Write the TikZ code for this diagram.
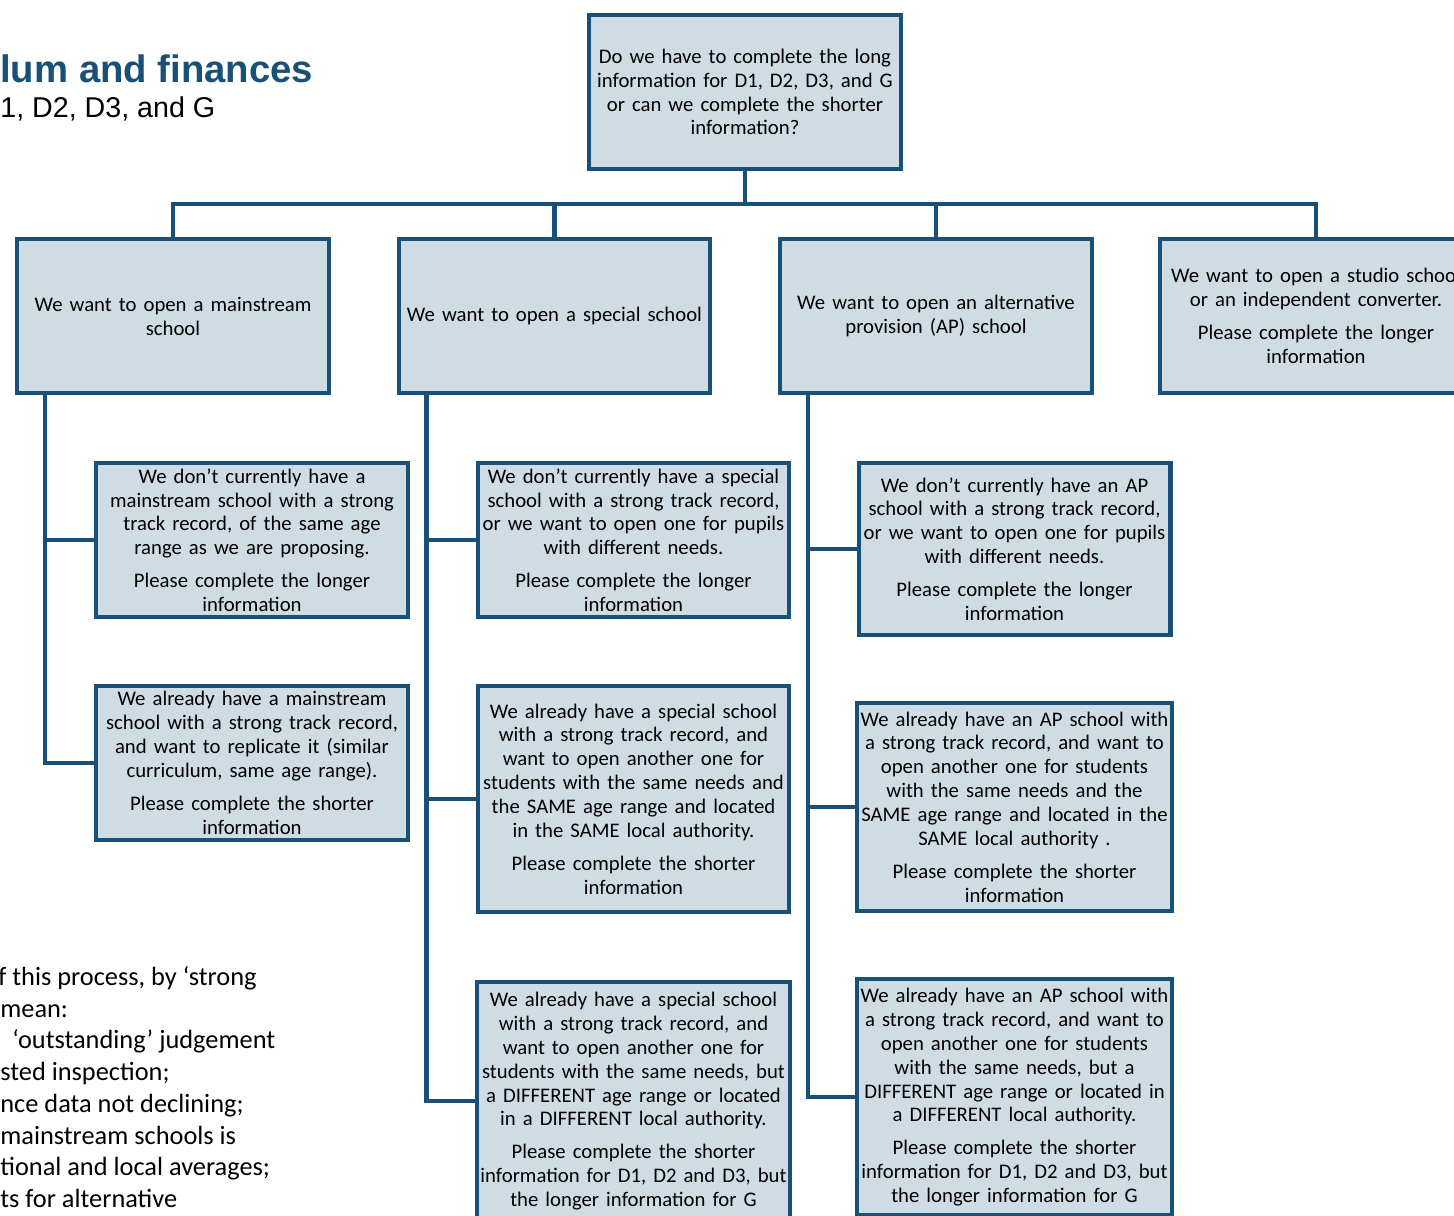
\documentclass[tikz,border=0pt]{standalone}
\usepackage{fontspec}
\setmainfont{Carlito}
\newfontfamily\headfont{Liberation Sans}
\definecolor{darkblue}{RGB}{24,80,120}
\definecolor{paleblue}{RGB}{208,220,228}
\newcommand{\boxfont}{\fontsize{11.8}{13.6}\selectfont\spaceskip=0.34em plus 0.1em}

\begin{document}
\begin{tikzpicture}[x=0.02cm, y=-0.02cm,
        box/.style={draw=darkblue, fill=paleblue, line width=2.3pt, align=center,
            minimum width=6.24cm, minimum height=3.08cm, inner sep=2pt,
            font=\boxfont},
        link/.style={draw=darkblue, line width=2.3pt},
        note/.style={anchor=base west, inner sep=0pt, font=\fontsize{15}{18}\selectfont}]
        \useasboundingbox (0,0) rectangle (1454,1216);
        \clip (0,0) rectangle (1454,1216);

        % heading
        \node[anchor=base west, inner sep=0pt, text=darkblue, font=\headfont\bfseries\fontsize{21.8}{26}\selectfont] (title) at (0,83) {lum and finances};
        \node[anchor=base west, inner sep=0pt, font=\headfont\fontsize{16.3}{19}\selectfont] (subtitle) at (0,118) {1, D2, D3, and G};

        % question and first choice
        \node[box] (question) at (745,92) {Do we have to complete the long\\information for D1, D2, D3, and G\\or can we complete the shorter\\information?};
        \node[box] (mainstream) at (173,316) {We want to open a mainstream\\school};
        \node[box] (special) at (554.5,316) {We want to open a special school};
        \node[box] (ap) at (936,316) {We want to open an alternative\\provision (AP) school};
        \node[box] (studio) at (1316,316) {We want to open a studio school\\or an independent converter.\\[5pt]Please complete the longer\\information};

        % mainstream
        \node[box] (ms1) at (252,540) {We don't currently have a\\mainstream school with a strong\\track record, of the same age\\range as we are proposing.\\[5pt]Please complete the longer\\information};
        \node[box] (ms2) at (252,763) {We already have a mainstream\\school with a strong track record,\\and want to replicate it (similar\\curriculum, same age range).\\[5pt]Please complete the shorter\\information};

        % special
        \node[box] (sp1) at (633.5,540) {We don't currently have a special\\school with a strong track record,\\or we want to open one for pupils\\with different needs.\\[5pt]Please complete the longer\\information};
        \node[box, minimum height=4.52cm] (sp2) at (633.5,799) {We already have a special school\\with a strong track record, and\\want to open another one for\\students with the same needs and\\the SAME age range and located\\in the SAME local authority.\\[5pt]Please complete the shorter\\information};
        \node[box, minimum height=4.76cm] (sp3) at (633.5,1101) {We already have a special school\\with a strong track record, and\\want to open another one for\\students with the same needs, but\\a DIFFERENT age range or located\\in a DIFFERENT local authority.\\[5pt]Please complete the shorter\\information for D1, D2 and D3, but\\the longer information for G};

        % alternative provision
        \node[box, minimum height=3.44cm] (ap1) at (1014.5,549) {We don't currently have an AP\\school with a strong track record,\\or we want to open one for pupils\\with different needs.\\[5pt]Please complete the longer\\information};
        \node[box, minimum height=4.16cm] (ap2) at (1014.5,807) {We already have an AP school with\\a strong track record, and want to\\open another one for students\\with the same needs and the\\SAME age range and located in the\\SAME local authority .\\[5pt]Please complete the shorter\\information};
        \node[box, minimum height=4.72cm] (ap3) at (1014.5,1097) {We already have an AP school with\\a strong track record, and want to\\open another one for students\\with the same needs, but a\\DIFFERENT age range or located in\\a DIFFERENT local authority.\\[5pt]Please complete the shorter\\information for D1, D2 and D3, but\\the longer information for G};

        % connectors
        \foreach \b in {mainstream,special,ap,studio}
            \draw[link] (question.south) -- ++(0,33) -| (\b.north);
        \draw[link] (mainstream.south west) ++(30,0) |- (ms1.west);
        \draw[link] (mainstream.south west) ++(30,0) |- (ms2.west);
        \draw[link] (special.south west) ++(30,0) |- (sp1.west);
        \draw[link] (special.south west) ++(30,0) |- (sp2.west);
        \draw[link] (special.south west) ++(30,0) |- (sp3.west);
        \draw[link] (ap.south west) ++(30,0) |- (ap1.west);
        \draw[link] (ap.south west) ++(30,0) |- (ap2.west);
        \draw[link] (ap.south west) ++(30,0) |- (ap3.west);

        % side note
        \node[note] (note1) at (-2,985) {f this process, by ‘strong};
        \node[note] (note2) at (0,1017) {mean:};
        \node[note] (note3) at (12,1048) {‘outstanding’ judgement};
        \node[note] (note4) at (0,1080) {sted inspection;};
        \node[note] (note5) at (0,1112) {nce data not declining;};
        \node[note] (note6) at (0,1144) {mainstream schools is};
        \node[note] (note7) at (0,1175) {tional and local averages;};
        \node[note] (note8) at (0,1207) {ts for alternative};
\end{tikzpicture}
\end{document}
